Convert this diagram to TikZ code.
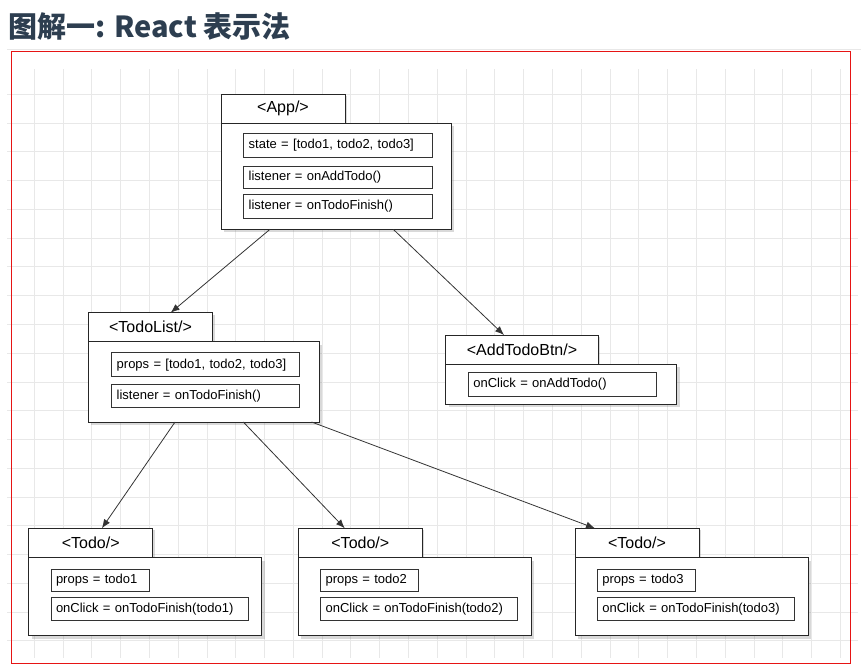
\documentclass[tikz,border=0pt]{standalone}
\usepackage{fontspec}
\setmainfont{Liberation Sans}
\newfontfamily\cjk{Noto Sans CJK SC}
\usepackage{tikz}
\usetikzlibrary{calc,arrows.meta,shadows}
\definecolor{titleblue}{RGB}{45,62,80}
\definecolor{gridgray}{RGB}{232,232,232}
\definecolor{framered}{RGB}{230,20,20}

\tikzset{
  tabbox/.style={draw=black!85,fill=white,line width=0.9pt,anchor=north west,
    inner sep=0pt,outer sep=0pt,minimum height=29pt,
    font=\fontsize{16}{19}\selectfont,
    drop shadow={shadow xshift=2pt,shadow yshift=-2pt,opacity=0.3}},
  bodybox/.style={draw=black!85,fill=white,line width=0.9pt,anchor=north west,
    inner sep=0pt,outer sep=0pt,
    drop shadow={shadow xshift=3pt,shadow yshift=-3pt,opacity=0.3}},
  field/.style={draw=black!80,line width=0.8pt,anchor=north west,
    inner xsep=5pt,inner ysep=0pt,outer sep=0pt,align=left,
    font=\fontsize{13}{15}\selectfont},
  link/.style={draw=black!80,line width=0.8pt,-{Latex[length=9pt,width=7pt]}}
}

\begin{document}
\begin{tikzpicture}[x=1pt,y=-1pt]
\useasboundingbox (0,0) rectangle (861,667);
% title and frame
\node[anchor=base west,text=titleblue,inner sep=0pt] (title) at (8,37.5)
  {\cjk\bfseries\fontsize{29}{34}\selectfont 图解一: React 表示法};
\draw[gridgray,line width=0.8pt] (7,49.5) -- (861,49.5);
\foreach \x in {0,...,28}
\draw[gridgray,line width=1pt] ({34.3+\x*28.79},69) -- ({34.3+\x*28.79},658);
\foreach \y in {0,...,19}
\draw[gridgray,line width=1pt] (7,{94.3+\y*28.77}) -- (858,{94.3+\y*28.77});
\draw[framered,line width=0.9pt] (11.3,51.3) rectangle (850.3,663.3);

% App
\node[tabbox,minimum width=124pt] (apptab) at (221,94.3) {<App/>};
\node[bodybox,minimum width=230pt,minimum height=106pt] (app) at (221,123.3) {};
\node[field,text width=178.3pt,minimum height=23.6pt] (appstate) at (243.7,133.7) {state = [todo1, todo2, todo3]};
\node[field,text width=178.3pt,minimum height=22.7pt] (appadd) at (243.7,166) {listener = onAddTodo()};
\node[field,text width=178.3pt,minimum height=23.3pt] (appfinish) at (243.7,194.7) {listener = onTodoFinish()};

% TodoList
\node[tabbox,minimum width=124.4pt] (listtab) at (88.3,312.7) {<TodoList/>};
\node[bodybox,minimum width=230.7pt,minimum height=80.3pt] (list) at (88.3,341.7) {};
\node[field,text width=177.3pt,minimum height=24pt] (listprops) at (111.7,352.7) {props = [todo1, todo2, todo3]};
\node[field,text width=177.3pt,minimum height=23.4pt] (listfinish) at (111.7,384.3) {listener = onTodoFinish()};

% AddTodoBtn
\node[tabbox,minimum width=152.6pt,minimum height=29.3pt] (btntab) at (445.7,335) {<AddTodoBtn/>};
\node[bodybox,minimum width=231pt,minimum height=39.7pt] (btn) at (445.7,364.3) {};
\node[field,text width=178.4pt,minimum height=23.3pt] (btnclick) at (468.3,372.7) {onClick = onAddTodo()};

% Todo items
\foreach \i/\x in {1/28.7,2/298.3,3/575}{
\node[tabbox,minimum width=124pt,minimum height=29.5pt] (todotab\i) at (\x,528.3) {<Todo/>};
\node[bodybox,minimum width=233pt,minimum height=78pt] (todo\i) at (\x,557.8) {};
\node[field,text width=88pt,minimum height=22pt] (todoprops\i) at ({\x+22.3},569.2) {props = todo\i};
\node[field,text width=187pt,minimum height=23.5pt] (todoclick\i) at ({\x+22.3},597.3) {onClick = onTodoFinish(todo\i)};
}

% links
\draw[link] ($(app.south west)!0.213!(app.south east)$) -- ($(listtab.north west)!0.662!(listtab.north east)$);
\draw[link] ($(app.south west)!0.749!(app.south east)$) -- ($(btntab.north west)!0.382!(btntab.north east)$);
\draw[link] ($(list.south west)!0.376!(list.south east)$) -- ($(todotab1.north west)!0.59!(todotab1.north east)$);
\draw[link] ($(list.south west)!0.672!(list.south east)$) -- ($(todotab2.north west)!0.375!(todotab2.north east)$);
\draw[link] ($(list.south west)!0.968!(list.south east)$) -- ($(todotab3.north west)!0.161!(todotab3.north east)$);
\end{tikzpicture}
\end{document}
